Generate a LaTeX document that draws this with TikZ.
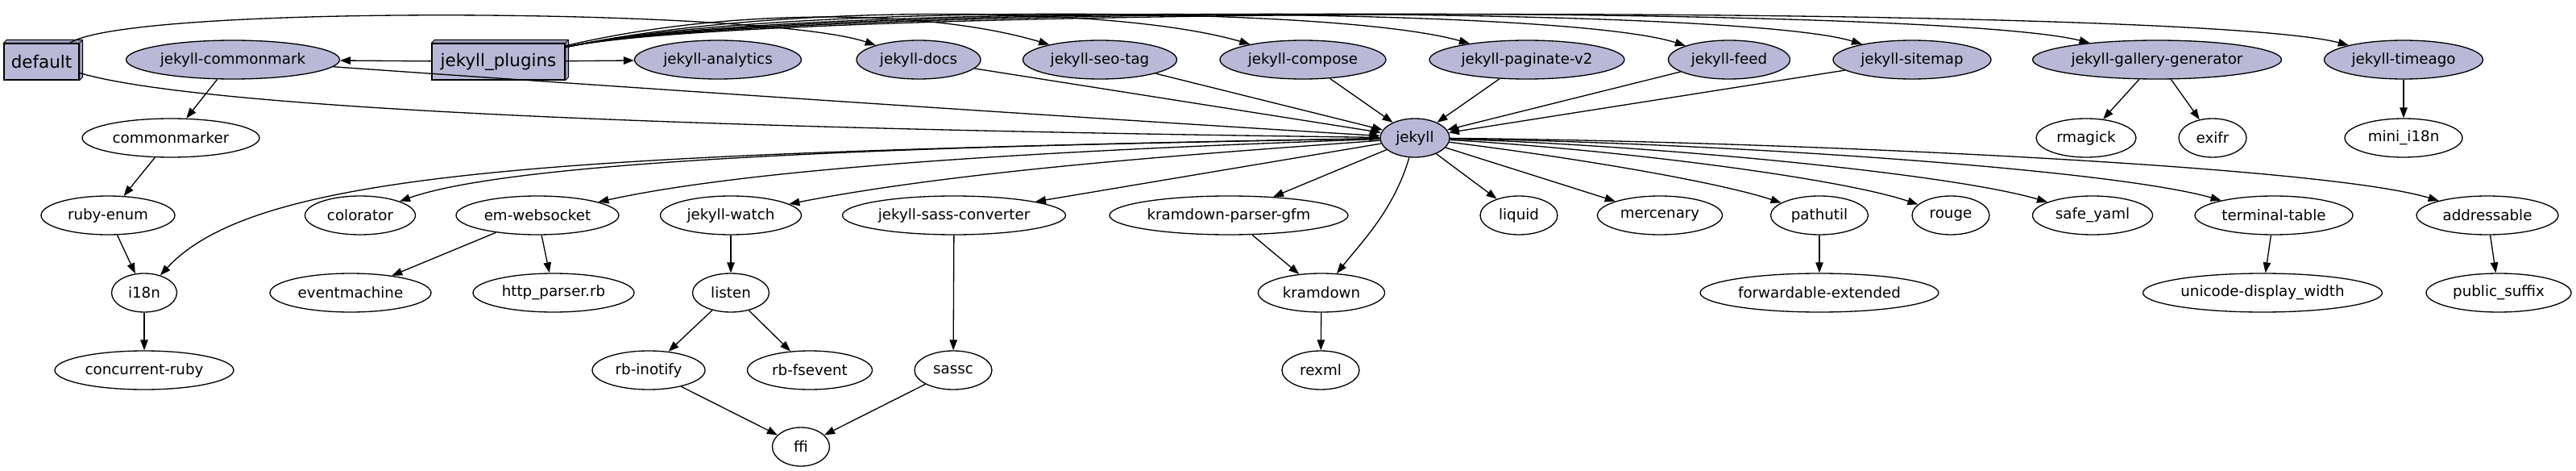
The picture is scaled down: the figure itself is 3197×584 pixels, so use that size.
\documentclass[tikz,border=0pt]{standalone}
\usepackage{fontspec}
\setmainfont{DejaVu Sans}
\usepackage{xcolor}
\usepackage{tikz}
\usetikzlibrary{shapes.geometric,arrows.meta}
\definecolor{plugfill}{RGB}{185,185,215}
\definecolor{sidefill}{RGB}{160,160,192}
\tikzset{
  gem/.style={ellipse,draw,line width=0.75pt,inner sep=0pt,minimum height=0.96cm,font=\fontsize{10.4}{12}\selectfont},
  plug/.style={gem,fill=plugfill},
  grp/.style={rectangle,draw,line width=0.75pt,fill=plugfill,inner sep=0pt,minimum height=0.9cm,font=\fontsize{12.2}{14}\selectfont},
  dep/.style={line width=0.75pt,-{Triangle[length=7.4pt,width=5.4pt]}},
}
\newcommand{\boxside}[1]{%
  \filldraw[line width=0.5pt,fill=sidefill,line join=round] (#1.north west) -- ++(4,-4) -- ([shift={(4,-4)}]#1.north east) -- ([shift={(4,-4)}]#1.south east) -- (#1.south east) -- (#1.north east) -- cycle;
  \draw[line width=0.5pt] (#1.north east) -- ++(4,-4);}

\begin{document}
\begin{tikzpicture}[x=0.02cm,y=-0.02cm]
\useasboundingbox (0,0) rectangle (3197,584);
% groups and plugins
\node[grp,minimum width=1.86cm] (default) at (51.5,76.5) {default};
\node[grp,minimum width=3.3cm] (plugins) at (618.5,76.5) {jekyll\_plugins};
\boxside{default}
\boxside{plugins}
\node[plug,minimum width=5.3cm] (commonmark) at (289,74) {jekyll-commonmark};
\node[plug,minimum width=4.14cm] (analytics) at (891,74) {jekyll-analytics};
\node[plug,minimum width=3.08cm] (docs) at (1140,74) {jekyll-docs};
\node[plug,minimum width=3.82cm] (seotag) at (1365,74) {jekyll-seo-tag};
\node[plug,minimum width=4.12cm] (compose) at (1617,74) {jekyll-compose};
\node[plug,minimum width=4.84cm] (paginate) at (1895,74) {jekyll-paginate-v2};
\node[plug,minimum width=3.02cm] (feed) at (2146,74) {jekyll-feed};
\node[plug,minimum width=3.92cm] (sitemap) at (2373,74) {jekyll-sitemap};
\node[plug,minimum width=6.18cm] (gallery) at (2677,74) {jekyll-gallery-generator};
\node[plug,minimum width=3.94cm] (timeago) at (2983,74) {jekyll-timeago};
% rank 1
\node[gem,minimum width=4.4cm] (commonmarker) at (212,171) {commonmarker};
\node[plug,minimum width=1.72cm] (jekyll) at (1756,171) {jekyll};
\node[gem,minimum width=2.48cm] (rmagick) at (2589,171) {rmagick};
\node[gem,minimum width=1.68cm] (exifr) at (2746,171) {exifr};
\node[gem,minimum width=2.92cm] (minii18n) at (2983,171) {mini\_i18n};
% rank 2
\node[gem,minimum width=3.32cm] (rubyenum) at (134,267) {ruby-enum};
\node[gem,minimum width=2.74cm] (colorator) at (447,267) {colorator};
\node[gem,minimum width=4.04cm] (emws) at (667,267) {em-websocket};
\node[gem,minimum width=3.5cm] (watch) at (907,267) {jekyll-watch};
\node[gem,minimum width=5.54cm] (sassconv) at (1184,267) {jekyll-sass-converter};
\node[gem,minimum width=5.92cm] (kgfm) at (1525,267) {kramdown-parser-gfm};
\node[gem,minimum width=1.92cm] (liquid) at (1885,267) {liquid};
\node[gem,minimum width=3.1cm] (mercenary) at (2060,267) {mercenary};
\node[gem,minimum width=2.42cm] (pathutil) at (2258,267) {pathutil};
\node[gem,minimum width=1.92cm] (rouge) at (2421,267) {rouge};
\node[gem,minimum width=2.98cm] (safeyaml) at (2597,267) {safe\_yaml};
\node[gem,minimum width=3.92cm] (ttable) at (2822,267) {terminal-table};
\node[gem,minimum width=3.52cm] (addressable) at (3087,267) {addressable};
% rank 3
\node[gem,minimum width=1.62cm] (i18n) at (179,363) {i18n};
\node[gem,minimum width=4.0cm] (eventmachine) at (435,363) {eventmachine};
\node[gem,minimum width=4.0cm] (httpparser) at (687,363) {http\_parser.rb};
\node[gem,minimum width=1.9cm] (listen) at (907,363) {listen};
\node[gem,minimum width=3.14cm] (kramdown) at (1640,363) {kramdown};
\node[gem,minimum width=5.92cm] (fwdext) at (2258,363) {forwardable-extended};
\node[gem,minimum width=5.94cm] (unicodew) at (2808,363) {unicode-display\_width};
\node[gem,minimum width=3.6cm] (pubsuffix) at (3101,363) {public\_suffix};
% rank 4 and 5
\node[gem,minimum width=4.44cm] (concurrent) at (179,459) {concurrent-ruby};
\node[gem,minimum width=2.8cm] (inotify) at (805,459) {rb-inotify};
\node[gem,minimum width=3.1cm] (fsevent) at (1005,459) {rb-fsevent};
\node[gem,minimum width=1.92cm] (sassc) at (1183,459) {sassc};
\node[gem,minimum width=1.92cm] (rexml) at (1639,459) {rexml};
\node[gem,minimum width=1.42cm] (ffi) at (994,554) {ffi};

% edges from the groups
\draw[dep] (default) .. controls (160,5) and (950,10) .. (docs);
\draw[dep] (default) .. controls (300,150) and (1300,165) .. (jekyll);
\draw[dep] (plugins) -- (commonmark);
\draw[dep] (plugins) -- (analytics);
\draw[dep] (plugins) .. controls (900,10) and (1150,10) .. (seotag);
\draw[dep] (plugins) .. controls (950,5) and (1380,5) .. (compose);
\draw[dep] (plugins) .. controls (950,5) and (1650,5) .. (paginate);
\draw[dep] (plugins) .. controls (950,5) and (1930,5) .. (feed);
\draw[dep] (plugins) .. controls (950,5) and (2150,5) .. (sitemap);
\draw[dep] (plugins) .. controls (950,5) and (2400,5) .. (gallery);
\draw[dep] (plugins) .. controls (950,5) and (2720,5) .. (timeago);
% into jekyll
\draw[dep] (commonmark) .. controls (800,110) and (1400,150) .. (jekyll);
\foreach \p in {docs,seotag,compose,paginate,feed,sitemap}
  \draw[dep] (\p) -- (jekyll);
% out of jekyll
\draw[dep] (jekyll) .. controls (700,190) and (320,210) .. (i18n);
\draw[dep] (jekyll) .. controls (1200,180) and (650,195) .. (colorator);
\draw[dep] (jekyll) .. controls (1350,185) and (950,205) .. (emws);
\draw[dep] (jekyll) .. controls (1500,190) and (1200,210) .. (watch);
\foreach \g in {sassconv,kgfm,liquid,mercenary}
  \draw[dep] (jekyll) -- (\g);
\draw[dep] (jekyll) .. controls (1730,260) and (1690,300) .. (kramdown);
\draw[dep] (jekyll) .. controls (1950,195) and (2130,225) .. (pathutil);
\draw[dep] (jekyll) .. controls (2000,185) and (2280,220) .. (rouge);
\draw[dep] (jekyll) .. controls (2050,180) and (2420,215) .. (safeyaml);
\draw[dep] (jekyll) .. controls (2150,178) and (2620,210) .. (ttable);
\draw[dep] (jekyll) .. controls (2200,175) and (2880,205) .. (addressable);
% the rest
\draw[dep] (commonmark) -- (commonmarker);
\draw[dep] (commonmarker) -- (rubyenum);
\draw[dep] (rubyenum) -- (i18n);
\draw[dep] (i18n) -- (concurrent);
\draw[dep] (emws) -- (eventmachine);
\draw[dep] (emws) -- (httpparser);
\draw[dep] (watch) -- (listen);
\draw[dep] (listen) -- (inotify);
\draw[dep] (listen) -- (fsevent);
\draw[dep] (inotify) -- (ffi);
\draw[dep] (sassc) -- (ffi);
\draw[dep] (sassconv) -- (sassc);
\draw[dep] (kgfm) -- (kramdown);
\draw[dep] (kramdown) -- (rexml);
\draw[dep] (pathutil) -- (fwdext);
\draw[dep] (ttable) -- (unicodew);
\draw[dep] (addressable) -- (pubsuffix);
\draw[dep] (gallery) -- (rmagick);
\draw[dep] (gallery) -- (exifr);
\draw[dep] (timeago) -- (minii18n);
\end{tikzpicture}
\end{document}
